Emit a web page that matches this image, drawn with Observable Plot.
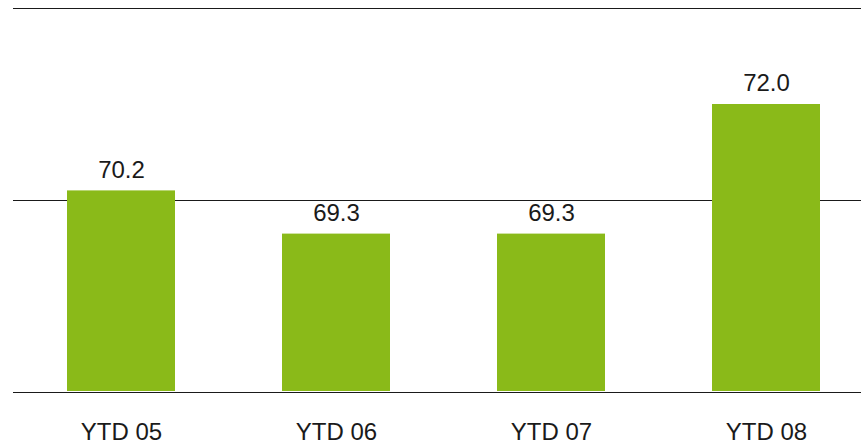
<!DOCTYPE html>
<html>
<head>
<meta charset="utf-8">
<script src="https://cdn.jsdelivr.net/npm/d3@7"></script>
<script src="https://cdn.jsdelivr.net/npm/@observablehq/plot@0.6"></script>
<style>
  html, body { margin: 0; padding: 0; background: #ffffff; }
  #chart svg { display: block; }
</style>
</head>
<body>
<div id="chart"></div>
<script>
const categories = ["YTD 05", "YTD 06", "YTD 07", "YTD 08"];
const values = [70.2, 69.3, 69.3, 72.0];
const valueLabels = ["70.2", "69.3", "69.3", "72.0"];
const yTicks = [66, 70, 74];
const yMin = 66;
const yMax = 74;

const data = categories.map((c, i) => ({cat: c, value: values[i], label: valueLabels[i]}));

const chart = Plot.plot({
  width: 861,
  height: 446,
  marginTop: 8,
  marginBottom: 54,
  marginLeft: 13,
  marginRight: 0,
  style: {fontFamily: "'Liberation Sans', Arial, sans-serif", background: "#ffffff", color: "#1a1a1a"},
  x: {domain: categories, range: [12.3, 873.7], paddingInner: 0.5, paddingOuter: 0.25, label: null},
  y: {domain: [yMin, yMax], label: null, axis: null},
  marks: [
    Plot.ruleY(yTicks, {stroke: "#1a1a1a", strokeWidth: 1.2}),
    Plot.barY(data, {x: "cat", y1: () => yMin, y2: "value", fill: "#8aba19", insetBottom: 1}),
    Plot.text(data, {x: "cat", y: "value", text: "label", dy: -21, fontSize: 24, fill: "#1a1a1a"}),
    Plot.axisX({tickSize: 0, tickPadding: 30, fontSize: 24, fill: "#1a1a1a", label: null})
  ]
});
document.getElementById("chart").appendChild(chart);
</script>
</body>
</html>
